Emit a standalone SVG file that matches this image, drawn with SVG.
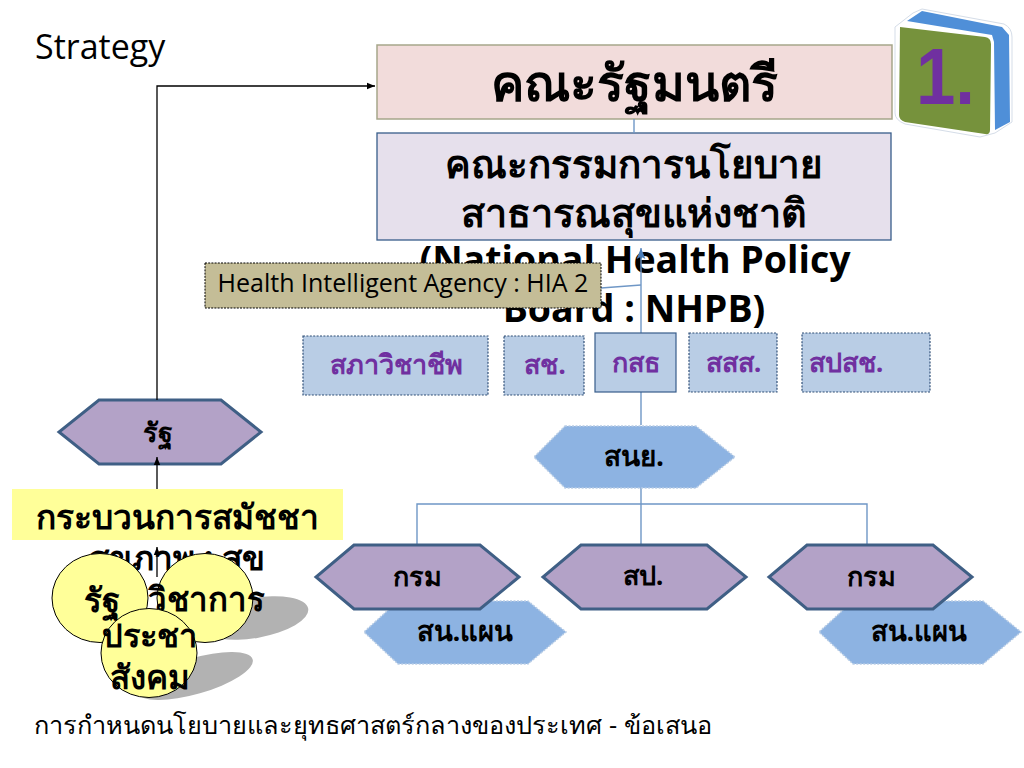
<svg xmlns="http://www.w3.org/2000/svg" width="1024" height="768" viewBox="0 0 1024 768">
<defs>
<marker id="ah" viewBox="0 0 10 10" refX="10" refY="5" markerWidth="8" markerHeight="8" markerUnits="userSpaceOnUse" orient="auto"><path d="M0 1L10 5L0 9Z" fill="#000"/></marker>
<marker id="ab" viewBox="0 0 10 10" refX="10" refY="5" markerWidth="11" markerHeight="11" markerUnits="userSpaceOnUse" orient="auto"><path d="M0 1L10 5L0 9L2 5Z" fill="#4a7ebb"/></marker>
</defs>
<style>
text{font-family:"Open Sans","Noto Sans","Noto Sans CJK SC",sans-serif;text-anchor:middle;fill:#000}
.b{font-weight:700}
.box{fill:#b9cde5;stroke:#385d8a;stroke-width:1.2}
.dash{stroke-dasharray:2 1.4;stroke:#2f4f77}
.pl{fill:#7030a0;font-weight:700;font-size:27px}
.hex{fill:#b3a2c7;stroke:#3f5f85;stroke-width:3}
.dh{fill:#8db3e2;stroke:#b9cde5;stroke-width:1.5;stroke-dasharray:2 1.5}
.c{fill:#ffff99;stroke:#000;stroke-width:1}
.s{fill:#b2b2b2}
.w{fill:none;stroke:#6f97c6;stroke-width:1.4}
.k{fill:none;stroke:#000;stroke-width:1.3}
</style>
<text x="35" y="59" font-size="34" style="text-anchor:start">Strategy</text>
<g id="cabinet"><rect x="377" y="45" width="515" height="74" fill="#f2dcdb" stroke="#a6a68a" stroke-width="1.5"/><text class="b" x="634" y="101" font-size="50">คณะรัฐมนตรี</text></g>
<g id="nhpb"><rect x="377" y="133" width="514" height="107" fill="#e6e0ec" stroke="#385d8a" stroke-width="1.3"/><g class="b"><text x="634" y="178" font-size="38.500">คณะกรรมการนโยบาย</text><text x="634" y="227" font-size="39.500">สาธารณสุขแห่งชาติ</text><text x="635" y="273" font-size="37.500">(National Health Policy</text><text x="634" y="322" font-size="37.500">Board : NHPB)</text></g></g>
<g id="connectors">
<path class="w" d="M634 119V133"/>
<path class="w" d="M641 333V248" marker-end="url(#ab)"/>
<path class="w" d="M601 288L641 285"/>
<path class="w" d="M641 392V425M641 488V545M417 545V504H867V545"/>
</g>
<g id="hia"><rect x="205" y="263" width="396" height="45" fill="#c4bd97" stroke="#000" stroke-width="1" stroke-dasharray="2 1.2"/><text x="403" y="292" font-size="25">Health Intelligent Agency : HIA 2</text></g>
<g id="n1"><rect class="box dash" x="303" y="336" width="185" height="59"/><text class="pl" x="396" y="374">สภาวิชาชีพ</text></g>
<g id="n2"><rect class="box dash" x="504" y="336" width="80" height="59"/><text class="pl" x="545" y="374">สช.</text></g>
<g id="n3"><rect class="box" x="595" y="333" width="81" height="59"/><text class="pl" x="635.500" y="372">กสธ</text></g>
<g id="n4"><rect class="box dash" x="689" y="333" width="88" height="59"/><text class="pl" x="733.500" y="372">สสส.</text></g>
<g id="n5"><rect class="box dash" x="802" y="333" width="128" height="59"/><text class="pl" x="846" y="372">สปสช.</text></g>
<g id="snoy"><path class="dh" d="M565 426H696L735 457L696 488H565L534 457Z"/><text class="b" x="634" y="466" font-size="28">สนย.</text></g>
<g id="state"><path class="hex" d="M99 400H221L261 432L221 464H99L59 432Z"/><text class="b" x="158" y="442" font-size="27">รัฐ</text></g>
<path class="k" d="M157 400V86H375" marker-end="url(#ah)"/>
<path class="k" d="M157 489V457" marker-end="url(#ah)"/>
<g id="assembly"><text class="b" x="177" y="570" font-size="33.500">สุขภาพ : สุข</text><rect x="12" y="489" width="331" height="51" fill="#ffff99"/><text class="b" x="177" y="529" font-size="33.500">กระบวนการสมัชชา</text></g>
<g id="plan1"><path class="dh" d="M398 601H528L566 632L528 664H398L364 632Z"/><text class="b" x="465" y="641" font-size="27.500">สน.แผน</text></g>
<g id="dept1"><path class="hex" d="M354 545H480L519 577L480 609H354L316 577Z"/><text class="b" x="417" y="586" font-size="27">กรม</text></g>
<g id="sp"><path class="hex" d="M581 545H707L746 577L707 609H581L543 577Z"/><text class="b" x="643" y="585" font-size="27">สป.</text></g>
<g id="plan2"><path class="dh" d="M853 601H983L1021 632L983 664H853L819 632Z"/><text class="b" x="919" y="641" font-size="27.500">สน.แผน</text></g>
<g id="dept2"><path class="hex" d="M807 545H933L972 577L933 609H807L769 577Z"/><text class="b" x="871" y="586" font-size="27">กรม</text></g>
<g id="shadows"><ellipse class="s" cx="255" cy="618" rx="54" ry="20" transform="rotate(-10 255 618)"/><ellipse class="s" cx="195" cy="676" rx="60" ry="18" transform="rotate(-16 195 676)"/></g>
<g id="c-state"><ellipse class="c" cx="100" cy="598" rx="48" ry="44.500"/></g>
<g id="c-acad"><ellipse class="c" cx="205" cy="598" rx="48" ry="44.500"/><text class="b" x="206" y="611" font-size="33">วิชาการ</text></g>
<g id="c-state-t"><text class="b" x="102" y="612" font-size="33">รัฐ</text></g>
<path class="k" d="M157 577V547" marker-end="url(#ah)"/>
<g id="c-people"><ellipse class="c" cx="149" cy="653" rx="48" ry="44.500"/><text class="b" x="149" y="647" font-size="32.500">ประชา</text><text class="b" x="150" y="689" font-size="33">สังคม</text></g>
<text x="373" y="734" font-size="25.300">การกำหนดนโยบายและยุทธศาสตร์กลางของประเทศ - ข้อเสนอ</text>
<g id="badge">
<path d="M895 27L913 13L922 9L1004 24Q1012 28 1012 37V122L995 133L980 137L905 124Q895 120 895 113Z" fill="#fff" stroke="#d5dde8"/>
<path d="M907 21L922 11L1002 27L1009 35L1010 122L995 130L994 42L992 35Z" fill="#4f8fd8"/>
<path d="M900 27L985 37Q991 38 991 44L990 130Q990 135 985 134L905 122Q899 120 899 115Z" fill="#76923c"/>
<text x="916" y="104" font-size="80" textLength="59" lengthAdjust="spacingAndGlyphs" class="b" style="text-anchor:start;fill:#7030a0;font-family:'Liberation Sans',sans-serif">1.</text>
</g>
</svg>
